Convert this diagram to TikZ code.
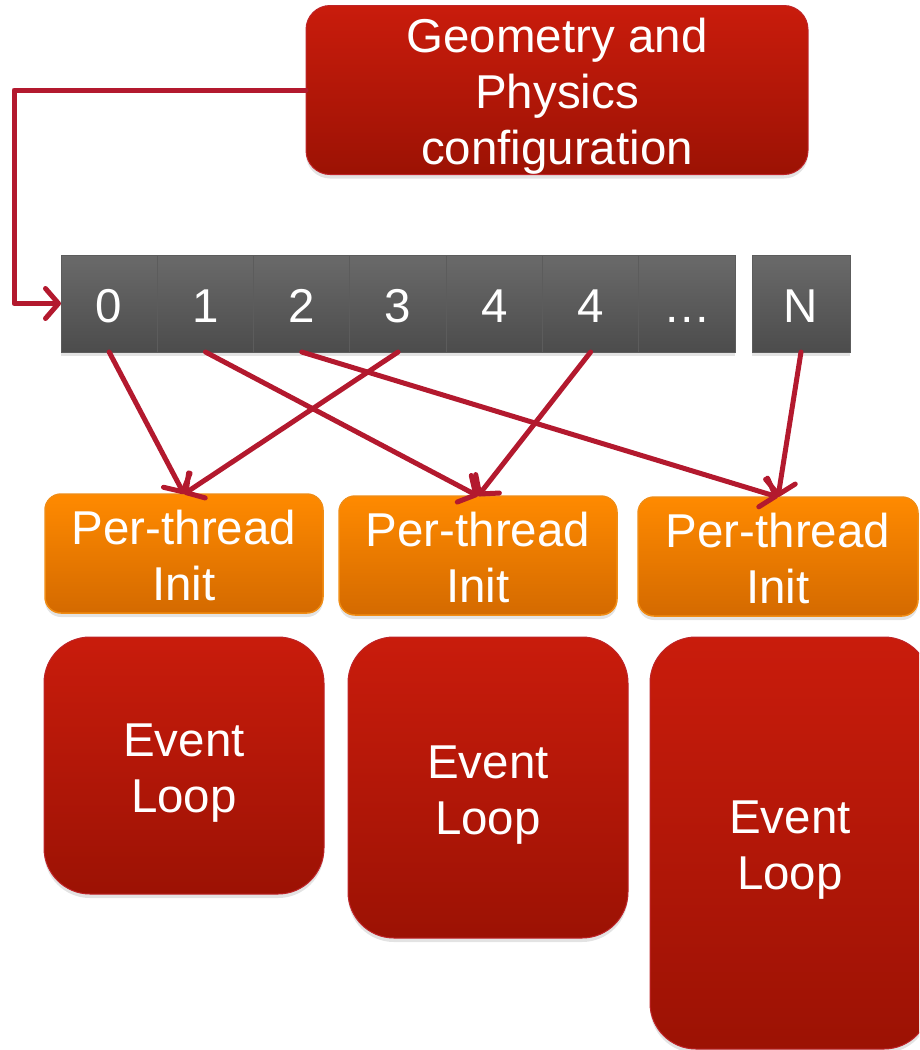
\documentclass[tikz,border=0pt]{standalone}
\usepackage{fontspec}
\setmainfont{Liberation Sans}
\usetikzlibrary{arrows.meta,shadows}
\definecolor{redtop}{RGB}{201,28,12}
\definecolor{redbot}{RGB}{156,18,4}
\definecolor{redline}{RGB}{190,36,40}
\definecolor{orgtop}{RGB}{255,138,0}
\definecolor{orgbot}{RGB}{212,106,0}
\definecolor{orgline}{RGB}{240,140,20}
\definecolor{celltop}{RGB}{106,106,106}
\definecolor{cellbot}{RGB}{76,76,76}
\definecolor{cellline}{RGB}{92,92,92}
\definecolor{arrowc}{RGB}{179,25,46}
\newcommand\tlines[1]{\rule{0pt}{47pt}#1\rule[-10pt]{0pt}{10pt}}
\begin{document}
\begin{tikzpicture}[x=1pt,y=-1pt,
  basebox/.style={rectangle, inner sep=0pt, outer sep=0pt, text=white,
    font=\fontsize{47.5}{56}\selectfont, align=center,
    drop shadow={opacity=0.22, shadow xshift=0pt, shadow yshift=-4pt}},
  redbox/.style={basebox, top color=redtop, bottom color=redbot, draw=redline, line width=1pt},
  evbox/.style={redbox, rounded corners=46pt, minimum width=280pt},
  orgbox/.style={basebox, rounded corners=16pt, top color=orgtop, bottom color=orgbot,
    draw=orgline, line width=1.5pt, minimum width=278pt, minimum height=119pt},
  cellbox/.style={basebox, minimum width=96.3pt, minimum height=97pt,
    top color=celltop, bottom color=cellbot, draw=cellline, line width=1pt},
  conn/.style={draw=arrowc, line width=5pt, line cap=round, line join=round,
    -{Straight Barb[length=13pt,width=30pt,round]}}
]
\useasboundingbox (0,0) rectangle (919,1050);
\clip (0,0) rectangle (919,1050);

% top configuration box
\node[redbox, rounded corners=24pt, minimum width=502pt, minimum height=162pt] (geo) at (557,90)
  {\tlines{Geometry and\\Physics\\configuration}};

% thread cells
\node[cellbox] (c0) at (109.15,303.5) {\tlines{0}};
\node[cellbox] (c1) at (205.45,303.5) {\tlines{1}};
\node[cellbox] (c2) at (301.75,303.5) {\tlines{2}};
\node[cellbox] (c3) at (398.05,303.5) {\tlines{3}};
\node[cellbox] (c4) at (494.35,303.5) {\tlines{4}};
\node[cellbox] (c5) at (590.65,303.5) {\tlines{4}};
\node[cellbox] (c6) at (686.95,303.5) {\tlines{…}};
\node[cellbox, minimum width=98pt] (cN) at (801,303.5) {\tlines{N}};

% per-thread init boxes
\node[orgbox] (p1) at (184,553.5) {\tlines{Per-thread\\Init}};
\node[orgbox] (p2) at (478,555.5) {\tlines{Per-thread\\Init}};
\node[orgbox, minimum width=280pt] (p3) at (778,556.5) {\tlines{Per-thread\\Init}};

% event loops
\node[evbox, minimum height=257pt] (e1) at (184,765.5) {\tlines{Event\\Loop}};
\node[evbox, minimum height=301pt] (e2) at (488,787.5) {\tlines{Event\\Loop}};
\node[evbox, minimum height=412pt] (e3) at (790,843) {\tlines{Event\\Loop}};

% connectors
\draw[conn] (geo.west) -- ++(-292,0) |- (c0.west);
\draw[conn] (c0.south) -- (p1.north);
\draw[conn] (c3.south) -- (p1.north);
\draw[conn] (c1.south) -- (p2.north);
\draw[conn] (c5.south) -- (p2.north);
\draw[conn] (c2.south) -- (p3.north);
\draw[conn] (cN.south) -- (p3.north);
\end{tikzpicture}
\end{document}
